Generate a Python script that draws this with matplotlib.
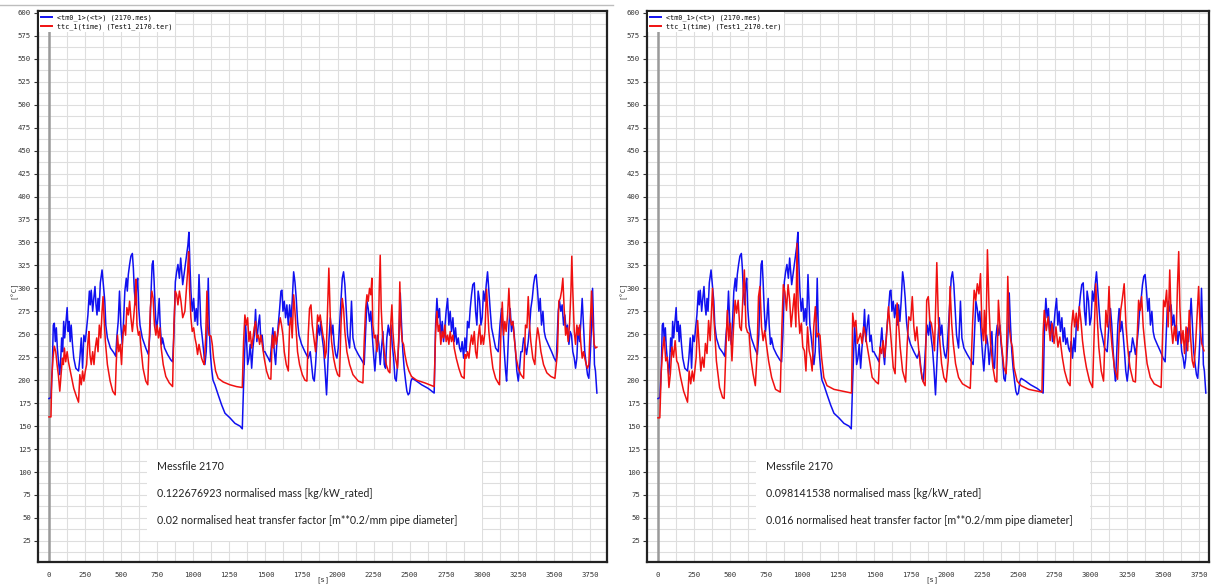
import matplotlib
matplotlib.use("Agg")
import matplotlib.pyplot as plt
from matplotlib.ticker import MultipleLocator
from matplotlib.patches import Rectangle
from matplotlib.lines import Line2D

# ---------------- data ----------------
blue_label = "<tm0_1>(<t>) (2170.mes)"
red_label = "ttc_1(time) (Test1_2170.ter)"

# measured temperature (same in both panels): (time [s], value [degC])
blue_pts = [
(0,180),(14,181),(23,213),(30,260),(37,262),(44,242),(51,257),(58,235),(68,217),(75,206),(82,224),(88,246),
(95,231),(102,264),(109,246),(116,260),(126,279),(133,253),(140,264),(147,242),(154,260),(163,239),(172,224),
(186,213),(205,210),(214,224),(224,246),(233,213),(242,249),(252,242),(261,257),(270,271),(280,297),(286,282),
(293,298),(303,275),(310,288),(319,302),(326,282),(333,271),(340,289),(347,275),(356,306),(368,320),(377,304),
(387,286),(394,260),(405,246),(426,235),(449,230),(463,226),(470,246),(480,264),(489,297),(498,260),(508,239),
(517,264),(526,297),(536,311),(543,297),(550,315),(559,326),(568,335),(578,338),(585,322),(592,297),(601,282),
(608,304),(615,311),(622,279),(631,260),(647,246),(671,235),(689,228),(699,249),(708,297),(715,326),(722,330),
(729,307),(736,279),(745,253),(755,268),(764,289),(771,260),(780,239),(787,246),(801,235),(822,228),(845,222),
(857,220),(866,249),(876,307),(885,318),(894,326),(904,311),(913,333),(927,304),
(942,322),(954,336),(963,347),(970,361),(977,326),(984,297),(993,275),(1003,289),(1012,264),(1021,278),
(1030,260),(1040,315),(1046,289),(1053,260),(1063,246),(1072,231),(1081,217),(1090,231),(1097,260),(1104,311),
(1111,260),(1118,231),(1127,213),(1137,200),(1150,195),(1173,184),(1197,173),(1220,164),(1254,159),(1289,153),
(1324,150),(1340,147),(1349,195),(1356,228),(1363,260),(1370,242),(1377,217),(1386,224),(1395,239),(1405,213),
(1414,235),(1423,249),(1432,277),(1441,242),(1451,260),(1460,271),(1469,242),(1478,249),(1488,231),(1497,231),
(1506,228),(1520,224),(1532,220),(1543,239),(1552,257),(1562,231),(1571,217),(1580,242),(1589,260),(1599,278),
(1608,297),(1615,298),(1622,275),(1631,286),(1640,268),(1649,282),(1659,260),(1668,282),(1677,264),(1686,286),
(1696,318),(1705,307),(1714,289),(1723,264),(1733,249),(1751,239),(1774,231),(1797,224),(1811,231),(1820,217),
(1830,202),(1839,199),(1848,217),(1857,242),(1866,260),(1876,249),(1885,264),(1894,246),(1903,235),
(1913,213),(1924,184),(1931,210),(1940,242),(1950,268),(1959,249),(1968,260),(1977,239),(1987,228),(1996,224),
(2005,235),(2014,260),(2024,286),(2033,311),(2042,318),(2051,304),(2061,275),(2070,249),(2084,235),(2097,286),
(2107,246),(2121,235),(2144,228),(2167,222),(2185,217),(2195,253),(2204,286),(2213,278),(2222,264),(2231,275),
(2241,249),(2250,228),(2259,210),(2268,231),(2278,249),(2287,239),(2296,217),(2305,235),(2315,253),(2324,217),
(2333,213),(2342,246),(2352,260),(2361,249),(2370,260),(2379,239),(2389,224),(2398,202),(2407,199),(2416,217),
(2425,242),(2435,295),(2444,260),(2453,231),(2462,213),(2472,199),(2481,188),(2490,184),(2499,186),(2509,199),
(2518,202),(2548,199),(2583,195),(2629,191),(2670,186),(2680,260),(2689,289),(2698,268),(2707,278),(2716,249),
(2726,264),(2735,242),(2744,257),(2753,275),(2763,289),(2772,260),(2781,275),(2790,253),(2800,268),(2809,242),
(2818,257),(2827,239),(2837,246),(2846,235),(2855,231),(2864,242),(2874,224),
(2883,246),(2892,231),(2901,264),(2911,257),(2920,278),(2929,293),(2938,304),(2948,306),(2957,275),(2966,260),
(2975,297),(2985,286),(2994,260),(3003,268),(3012,297),(3022,286),(3031,304),(3040,318),(3049,297),(3059,275),
(3068,257),(3082,246),(3096,235),(3114,231),(3126,260),(3137,278),(3146,260),(3156,231),(3165,210),(3172,199),
(3179,224),(3188,260),(3197,278),(3206,253),(3216,264),(3225,249),(3234,231),(3243,210),(3253,199),(3262,213),
(3271,231),(3280,231),(3290,246),(3299,239),(3310,228),(3322,242),(3331,257),(3340,278),(3350,289),(3359,304),
(3368,313),(3377,315),(3387,297),(3396,275),(3405,289),(3414,260),(3424,275),(3433,253),(3442,246),(3461,239),
(3484,231),(3502,224),(3516,220),(3530,275),(3539,286),(3548,275),(3557,282),(3567,260),(3576,271),(3585,253),
(3594,260),(3604,239),(3613,253),(3622,249),(3631,231),(3641,224),(3650,213),(3659,224),(3668,257),(3678,242),
(3687,264),(3696,289),(3705,260),(3714,231),(3724,217),(3733,206),(3742,202),(3751,224),(3761,260),(3768,300),
(3775,260),(3781,217),(3788,210),(3798,186)]

# simulated temperature, left panel (mass 0.1227, factor 0.02)
red_left_pts = [
(0,160),(14,160),(19,202),(28,224),(37,237),(47,231),(56,217),(65,206),(75,188),(84,206),(93,224),(100,217),
(107,235),(116,220),(126,231),(135,220),(144,213),(158,202),(172,191),(191,182),(205,176),(214,206),(224,195),
(233,210),(242,199),(252,210),(261,217),(270,242),(277,253),(284,228),(293,217),(303,231),(312,217),(321,235),
(331,246),(340,231),(349,260),(359,246),(368,275),(375,291),(382,268),(391,242),(405,217),(424,199),(442,188),
(459,184),(466,217),(475,249),(484,231),(494,239),(503,217),(512,249),(522,260),(531,249),(540,279),(550,271),
(559,286),(568,268),(578,253),(587,268),(596,286),(603,310),(610,260),(620,249),(629,253),(638,235),(652,213),
(671,199),(685,195),(694,239),(703,279),(713,297),(722,289),(731,260),(741,249),(750,260),(759,246),(769,257),
(778,235),(792,217),(810,204),(834,197),(857,193),(866,260),(876,297),(885,293),(894,282),(904,297),(915,286),
(927,268),
(942,275),(952,297),(961,318),(968,340),(975,297),(984,268),(993,253),(1003,257),(1012,246),(1021,239),
(1030,228),(1040,239),(1049,231),(1058,224),(1067,220),(1076,217),(1086,246),(1095,297),(1102,260),(1109,249),
(1123,248),(1132,239),(1141,224),(1155,210),(1173,202),(1208,198),(1254,195),(1300,193),(1340,192),(1349,242),
(1358,271),(1368,260),(1377,268),(1386,242),(1395,253),(1405,235),(1414,246),(1423,257),(1432,264),(1441,246),
(1451,249),(1460,239),(1469,249),(1478,239),(1492,224),(1508,210),(1525,202),(1538,201),(1548,249),(1557,235),
(1566,253),(1575,239),(1585,249),(1594,260),(1603,268),(1612,260),(1622,249),(1631,231),(1645,217),(1659,210),
(1668,260),(1677,268),(1686,246),(1696,293),(1705,275),(1714,253),(1723,231),(1737,217),(1756,206),(1774,200),
(1788,199),(1797,249),(1806,278),(1816,282),(1825,260),(1834,249),(1848,231),(1862,271),(1871,264),(1880,271),
(1889,260),(1899,249),(1908,242),
(1913,224),(1922,231),(1931,278),(1940,322),(1950,268),(1959,242),(1973,224),(1987,213),(2001,206),(2014,204),
(2024,260),(2033,289),(2042,278),(2051,253),(2065,231),(2084,217),(2107,206),(2144,199),(2176,197),(2185,242),
(2195,278),(2204,293),(2213,286),(2222,300),(2231,293),(2238,311),(2245,260),(2255,246),(2264,249),(2273,231),
(2282,242),(2289,297),(2296,336),(2303,278),(2312,249),(2324,231),(2338,217),(2352,210),(2363,208),(2370,264),
(2377,282),(2384,253),(2393,235),(2402,224),(2416,213),(2425,249),(2432,307),(2439,260),(2449,242),(2458,239),
(2467,228),(2481,217),(2495,210),(2513,204),(2548,200),(2606,197),(2670,193),(2680,253),(2689,275),(2698,253),
(2707,260),(2716,239),(2726,253),(2735,246),(2744,260),(2753,242),(2763,249),(2772,239),(2781,253),(2790,242),
(2800,249),(2809,235),(2823,224),(2841,213),(2860,204),(2878,202),
(2883,228),(2892,224),(2901,231),(2911,224),(2920,239),(2929,249),(2938,239),(2948,253),(2957,231),(2966,224),
(2975,246),(2985,260),(2994,239),(3003,249),(3012,239),(3022,253),(3033,299),(3040,280),(3049,253),(3063,231),
(3077,213),(3096,202),(3114,197),(3123,195),(3132,249),(3142,285),(3151,249),(3160,264),(3169,253),(3179,271),
(3188,300),(3197,268),(3206,260),(3216,264),(3225,246),(3239,224),(3253,213),(3271,206),(3290,202),(3303,260),
(3313,257),(3322,291),(3331,260),(3340,242),(3354,224),(3368,217),(3377,242),(3387,257),(3396,249),(3410,231),
(3428,217),(3451,208),(3479,204),(3507,202),(3525,231),(3534,286),(3544,289),(3553,297),(3562,311),(3571,278),
(3581,249),(3590,257),(3599,242),(3608,260),(3618,297),(3624,335),(3631,297),(3641,253),(3650,239),(3659,260),
(3668,249),(3678,260),(3687,239),(3696,224),(3705,231),(3714,224),(3724,217),(3733,213),(3742,217),(3751,257),
(3761,297),(3770,260),(3779,239),(3788,235),(3798,236)]

# simulated temperature, right panel (mass 0.0981, factor 0.016)
red_right_pts = [(0,159),(13,159),(22,207),(32,232),(43,247),(54,221),(65,225),(76,192),(86,207),(97,236),
(108,225),(119,243),(130,221),(140,218),(157,203),(178,188),(205,176),(216,210),(227,196),(238,210),
(248,199),(265,225),(275,265),(286,236),(297,210),(308,225),(319,214),(329,240),(340,229),(351,265),
(362,243),(378,300),(389,265),(405,221),(427,192),(448,181),(459,180),(470,229),(481,276),(491,243),
(502,262),(513,221),(524,258),(535,287),(545,273),(556,287),(567,258),(578,254),(589,291),(599,320),
(610,258),(621,252),(632,251),(643,225),(659,207),(675,194),(686,225),(697,291),(707,302),(718,258),
(729,243),(740,254),(751,240),(767,221),(788,203),(815,190),(848,187),(859,258),(869,304),(880,296),
(891,276),(902,304),(913,287),(923,258),(934,276),(945,294),(956,258),(964,349),(972,280),(983,251),
(994,262),(1004,236),(1015,232),(1026,210),(1037,258),(1048,232),(1058,225),(1069,210),(1080,258),(1091,280),
(1102,247),(1112,251),(1123,249),(1134,225),(1150,203),(1172,194),(1220,190),(1342,186),(1350,273),(1361,258),
(1372,265),(1382,240),(1404,251),(1415,240),(1426,258),(1436,251),(1447,240),(1463,225),(1485,203),(1512,198),
(1528,196),(1539,236),(1550,229),(1561,243),(1571,225),(1582,243),(1598,280),(1609,258),(1620,236),(1631,214),
(1644,207),(1658,284),(1669,258),(1679,236),(1696,210),(1717,198),(1728,240),(1739,269),(1752,265),(1763,291),
(1774,258),(1784,243),(1795,258),(1806,236),(1820,214),(1836,199),(1852,194),(1863,287),(1874,291),(1885,265),
(1895,262),(1906,251),(1917,232),(1933,328),(1944,265),(1955,240),(1966,218),(1982,203),(1998,198),(2012,221),
(2025,302),(2036,262),(2047,240),(2063,218),(2084,203),(2111,196),(2165,191),(2182,265),(2192,298),(2203,287),
(2214,305),(2225,294),(2236,316),(2246,258),(2257,243),(2263,276),(2273,240),(2284,342),(2295,280),(2306,240),
(2322,214),(2338,199),(2349,198),(2360,287),(2371,258),(2381,240),(2398,214),(2414,207),(2425,313),(2435,258),
(2446,243),(2457,236),(2468,214),(2490,199),(2517,194),(2570,190),(2662,187),(2670,251),(2678,276),(2692,254),
(2705,269),(2719,243),(2732,262),(2746,240),(2759,258),(2773,236),(2786,247),(2803,225),(2819,210),(2840,198),
(2857,194),(2867,258),(2878,276),(2889,258),(2900,273),(2911,254),(2921,280),(2932,265),(2943,243),(2954,229),
(2970,214),(2992,199),(3013,192),(3024,251),(3035,305),(3046,265),(3056,236),(3073,210),(3089,199),(3105,276),
(3116,258),(3127,302),(3137,258),(3148,236),(3164,214),(3186,201),(3197,251),(3208,276),(3218,287),(3232,305),
(3245,258),(3256,236),(3272,214),(3294,199),(3310,198),(3321,243),(3332,287),(3343,276),(3353,291),(3364,258),
(3375,240),(3391,218),(3413,203),(3440,196),(3488,192),(3505,287),(3515,280),(3526,298),(3537,258),(3548,320),
(3559,258),(3569,240),(3580,258),(3591,243),(3602,305),(3610,340),(3618,280),(3629,240),(3640,254),(3650,229),
(3661,258),(3672,232),(3683,276),(3694,243),(3704,221),(3715,214),(3726,236),(3737,269),(3748,302),(3758,258),
(3769,240),(3785,232)]

left_texts = ["Messfile 2170",
              "0.122676923 normalised mass [kg/kW_rated]",
              "0.02 normalised heat transfer factor [m**0.2/mm pipe diameter]"]
right_texts = ["Messfile 2170",
               "0.098141538 normalised mass [kg/kW_rated]",
               "0.016 normalised heat transfer factor [m**0.2/mm pipe diameter]"]

x_ticks = list(range(0, 3751, 250))
y_ticks = list(range(25, 601, 25))

# ---------------- figure ----------------
W, H = 1213, 585
fig = plt.figure(figsize=(W / 100, H / 100), dpi=100)
fig.patch.set_facecolor("white")

def rect(l, r, t, b):
    return [l / W, 1 - b / H, (r - l) / W, (b - t) / H]

MONO = "DejaVu Sans Mono"
TXT = "Lato"
XMIN = -76

panels = [
    dict(rect=rect(38, 607, 11, 562), xmax=3868, red=red_left_pts, texts=left_texts,
         box=(147, 450, 482, 541), tx=157, ylab_x=14),
    dict(rect=rect(647, 1209, 11, 562), xmax=3820, red=red_right_pts, texts=right_texts,
         box=(756, 450, 1090, 541), tx=766, ylab_x=623),
]

for p in panels:
    ax = fig.add_axes(p["rect"])
    ax.set_xlim(XMIN, p["xmax"])
    ax.set_ylim(2, 602)
    ax.xaxis.set_minor_locator(MultipleLocator(125))
    ax.yaxis.set_minor_locator(MultipleLocator(12.5))
    ax.set_xticks(x_ticks)
    ax.set_yticks(y_ticks)
    ax.set_xticklabels([str(v) for v in x_ticks], fontsize=5.2, family=MONO, color="#333333")
    ax.set_yticklabels([str(v) for v in y_ticks], fontsize=5.2, family=MONO, color="#333333")
    ax.grid(True, which="both", color="#dedede", lw=0.8)
    ax.set_axisbelow(True)
    ax.tick_params(axis="x", which="both", length=0, pad=7)
    ax.tick_params(axis="y", which="major", length=3, width=0.8, pad=2, color="#333333")
    ax.tick_params(axis="y", which="minor", length=0)
    for s in ax.spines.values():
        s.set_linewidth(1.6)
        s.set_color("#222222")
    ax.axvline(0, color="#9a9a9a", lw=1.8, zorder=1)

    bt = [a for a, b in blue_pts]
    bv = [b for a, b in blue_pts]
    rt = [a for a, b in p["red"]]
    rv = [b for a, b in p["red"]]
    ax.plot(bt, bv, color="#1010f0", lw=1.1, zorder=3, label=blue_label)
    ax.plot(rt, rv, color="#f01010", lw=1.1, zorder=4, label=red_label)

    leg = ax.legend(loc="upper left", bbox_to_anchor=(0.0, 1.0), frameon=True,
                    prop=dict(family=MONO, size=4.9), handlelength=1.6, handletextpad=0.8,
                    borderaxespad=0.15, borderpad=0.3, labelspacing=0.45, fancybox=False)
    leg.get_frame().set_facecolor("white")
    leg.get_frame().set_edgecolor("none")
    leg.get_frame().set_alpha(1.0)
    for ln in leg.get_lines():
        ln.set_linewidth(1.4)

    # annotation box
    x0, y0, x1, y1 = p["box"]
    fig.add_artist(Rectangle((x0 / W, 1 - y1 / H), (x1 - x0) / W, (y1 - y0) / H,
                             transform=fig.transFigure, facecolor="white",
                             edgecolor="none", zorder=5))
    for i, t in enumerate(p["texts"]):
        fig.text(p["tx"] / W, 1 - (466 + i * 27.5) / H, t, fontsize=7.7, family=TXT,
                 color="#222222", va="center", ha="left", zorder=6)

    fig.text(p["ylab_x"] / W, 1 - 290 / H, "[°C]", rotation=90, fontsize=5.2,
             family=MONO, color="#333333", ha="center", va="center")
    xc = p["rect"][0] + (1900 - XMIN) / (p["xmax"] - XMIN) * p["rect"][2]
    fig.text(xc, 1 - 580 / H, "[s]", fontsize=5.2, family=MONO, color="#333333",
             ha="center", va="center")

# thin grey border line at top of the left screenshot
fig.add_artist(Line2D([0, 613 / W], [1 - 5 / H, 1 - 5 / H], transform=fig.transFigure,
                      color="#bdbdbd", lw=1.0))

fig.savefig("out.png", dpi=100)
